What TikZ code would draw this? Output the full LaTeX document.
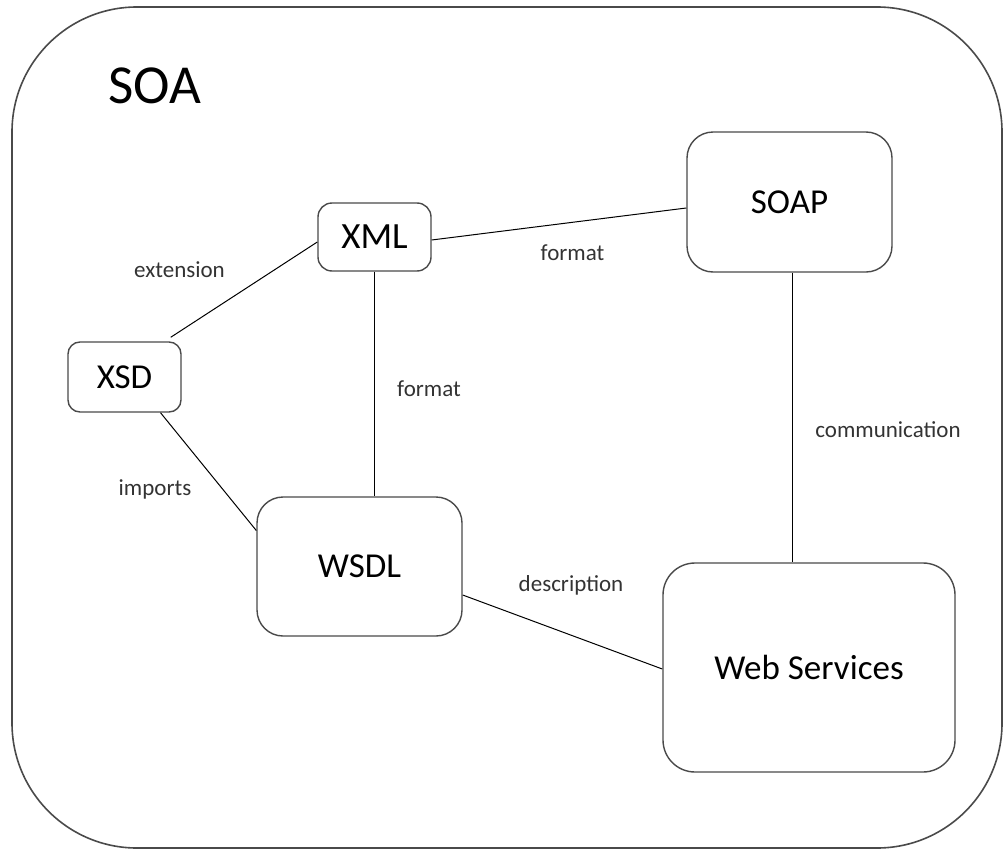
\documentclass[tikz,border=0pt]{standalone}
\usepackage{fontspec}
\setmainfont{Carlito}
\usetikzlibrary{calc}
\definecolor{boxline}{HTML}{4A4A4A}
\definecolor{labelcol}{HTML}{333333}
\tikzset{
  conceptbox/.style={draw=boxline, line width=1.4pt, rectangle, inner sep=0pt, align=center, text=black},
  edgelabel/.style={text=labelcol, font=\fontsize{23}{27}\selectfont, inner sep=0pt},
  link/.style={draw=black, line width=1pt},
}
\begin{document}
\begin{tikzpicture}[x=1pt,y=-1pt]
\useasboundingbox (0,0) rectangle (1003,851);
% outer frame
\draw[draw=boxline, line width=1.6pt, rounded corners=125pt] (12,7) rectangle (1002,848);
\node[font=\fontsize{55}{60}\selectfont, inner sep=0pt] (soa) at (155,86) {SOA};

% concept boxes
\node[conceptbox, rounded corners=14pt, minimum width=113pt, minimum height=68pt, font=\fontsize{37}{40}\selectfont] (xml) at (374.5,237) {XML};
\node[conceptbox, rounded corners=26pt, minimum width=205pt, minimum height=140pt, font=\fontsize{35}{40}\selectfont] (soap) at (789.5,202) {SOAP};
\node[conceptbox, rounded corners=12pt, minimum width=113pt, minimum height=70pt, font=\fontsize{35}{40}\selectfont] (xsd) at (124.5,377) {XSD};
\node[conceptbox, rounded corners=26pt, minimum width=205pt, minimum height=139pt, font=\fontsize{35}{40}\selectfont] (wsdl) at (359.5,566.5) {WSDL};
\node[conceptbox, rounded corners=32pt, minimum width=292pt, minimum height=209pt, font=\fontsize{35}{40}\selectfont] (ws) at (809,667.5) {Web Services};

% connector end points
\coordinate (soapout) at ($(soap.south)+(2.5,0)$);
\coordinate (wsin) at (soapout |- ws.north);

% connectors
\draw[link] ($(xml.west)+(0,5)$) -- ($(xsd.north east)+(-11,-4)$);
\draw[link] ($(xml.east)+(0,3)$) -- ($(soap.west)+(0,6)$);
\draw[link] (xml.south) -- (xml.south |- wsdl.north);
\draw[link] ($(xsd.south)+(36,0)$) -- ($(wsdl.west)+(0,-36)$);
\draw[link] ($(wsdl.east)+(0,28.5)$) -- ($(ws.west)+(0,1.5)$);
\draw[link] (soapout) -- (wsin);

% labels
\node[edgelabel] (lext) at (179.5,270) {extension};
\node[edgelabel] (lfmt1) at (572.5,253) {format};
\node[edgelabel] (lfmt2) at (429,389) {format};
\node[edgelabel] (lcomm) at (888,430) {communication};
\node[edgelabel] (limp) at (155,489) {imports};
\node[edgelabel] (ldesc) at (571,585) {description};
\end{tikzpicture}
\end{document}
